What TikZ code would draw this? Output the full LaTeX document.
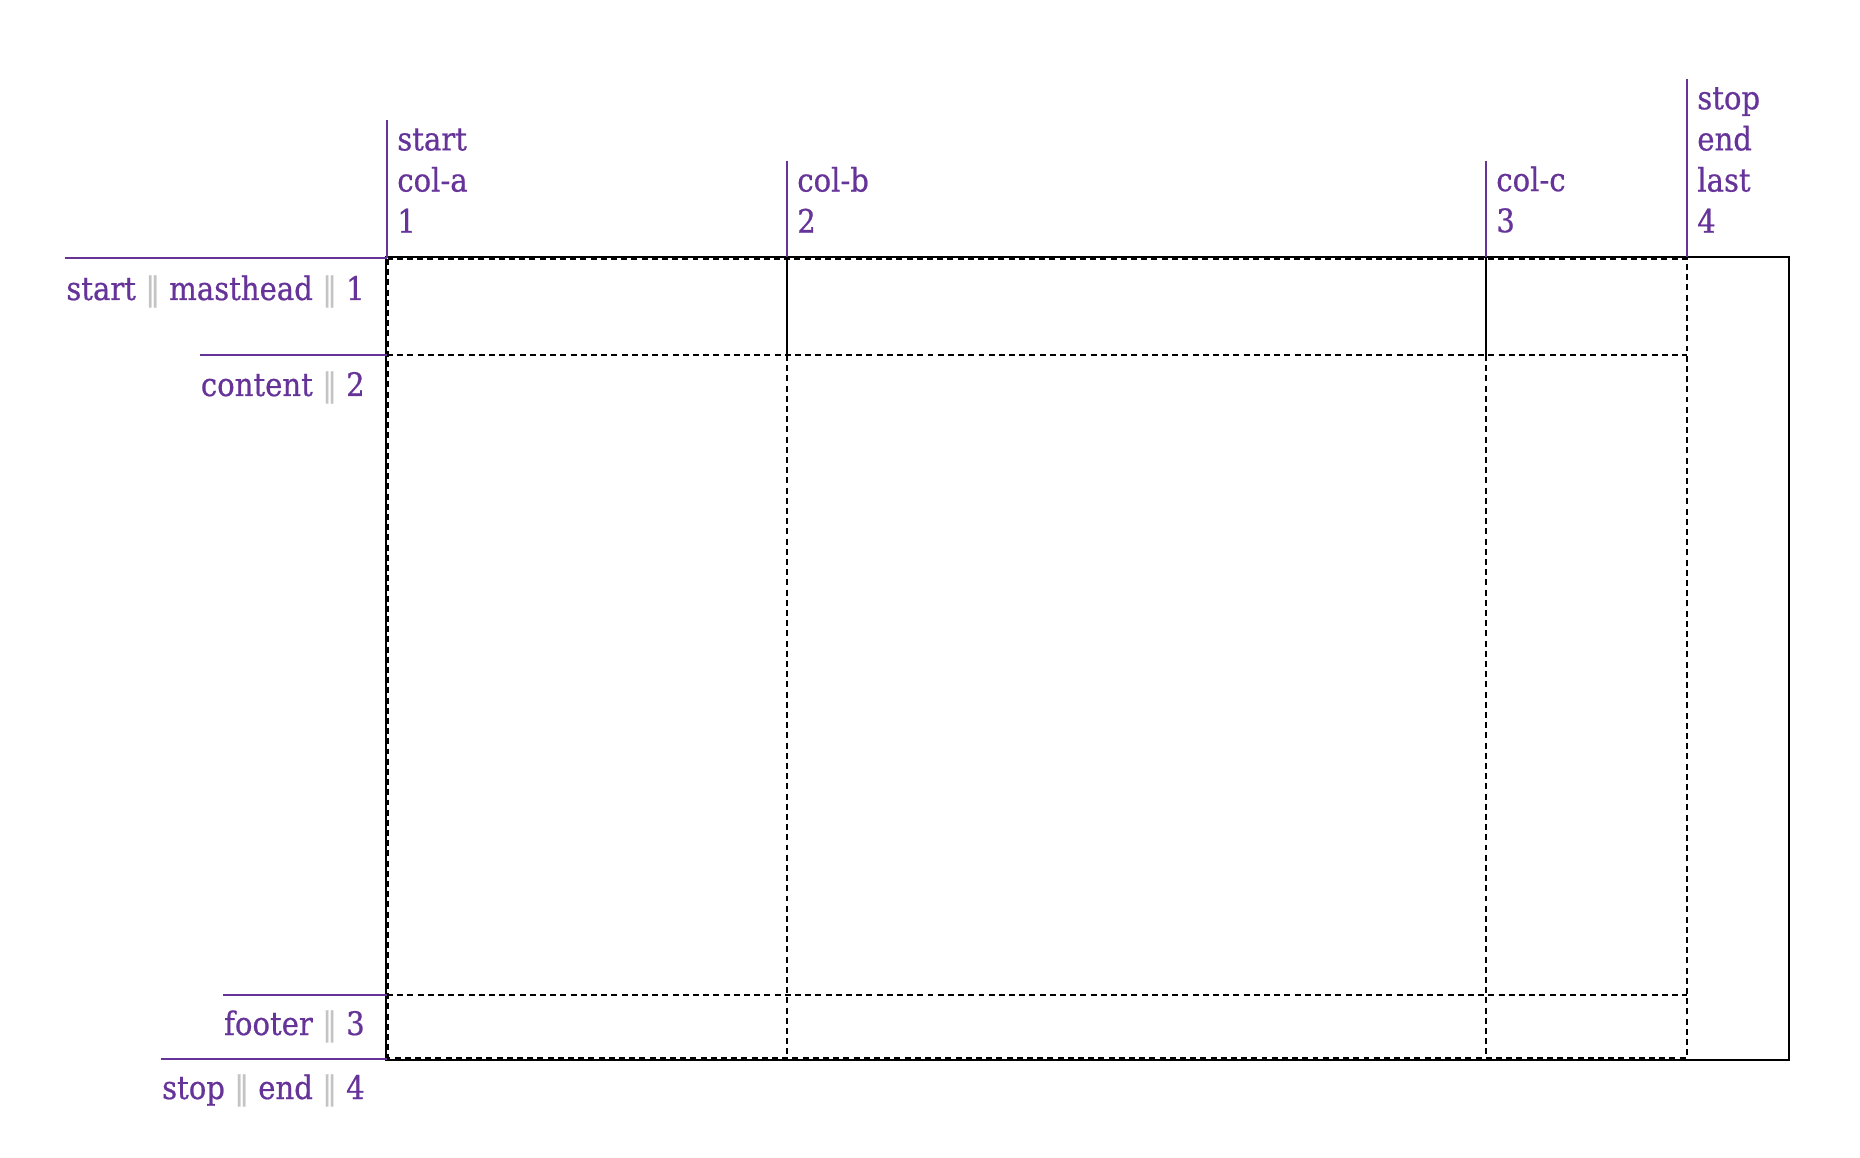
\documentclass[tikz,border=0pt]{standalone}
\usepackage{fontspec}
\setmainfont{DejaVu Serif}[FakeStretch=0.9,FakeBold=0.6]
\usepackage{tikz}
\usetikzlibrary{calc,positioning}
\definecolor{linepurple}{HTML}{663399}
\definecolor{sepgray}{HTML}{C4C4C4}
\newcommand{\gsep}{\textcolor{sepgray}{|\kern-0.15em|}}

\begin{document}
\begin{tikzpicture}[x=0.01cm,y=-0.01cm,line width=0.75pt,
	track/.style={dash pattern=on 1.7pt off 1.2pt},
	nameline/.style={linepurple,line width=0.75pt},
	collabel/.style={anchor=south west,inner sep=0pt,align=left,text=linepurple,font=\fontsize{9.2}{11.7}\selectfont},
	rowlabel/.style={anchor=base east,inner sep=0pt,text=linepurple,font=\fontsize{9.2}{11.7}\selectfont}]

% page
\useasboundingbox (0,0) rectangle (1860,1158);

% grid lines
\coordinate (g_1) at (387,258);
\coordinate (g_2) at (387,355);
\coordinate (g_3) at (387,995);
\coordinate (g_4) at (387,1059);

% container
\draw (386,257) rectangle (1789,1060);
% masthead walls
\draw (787,257) -- (787,355);
\draw (1486,257) -- (1486,355);

% tracks
\draw[track] (388,259) rectangle (1687,1058);
\draw[track] (787,355) -- (787,1058);
\draw[track] (1486,355) -- (1486,1058);
\draw[track] (g_2) -- (1687,355);
\draw[track] (g_3) -- (1687,995);

% column names
\draw[nameline] (g_1) -- (387,120);
\draw[nameline] (787,257) -- (787,161);
\draw[nameline] (1486,257) -- (1486,161);
\draw[nameline] (1687,257) -- (1687,79);

\node[collabel] (c_1) at (396,234) {start\\col-a\\1}; %label
\node[collabel] (c_2) at (796,234) {col-b\\2}; %label
\node[collabel] (c_3) at (1495,234) {col-c\\3}; %label
\node[collabel] (c_4) at (1696,234) {stop\\end\\last\\4}; %label

% row names
\node[rowlabel] (r_1) at (366,300) {start \gsep{} masthead \gsep{} 1}; %label
\node[rowlabel] (r_2) at (366,396) {content \gsep{} 2}; %label
\node[rowlabel] (r_3) at (366,1035) {footer \gsep{} 3}; %label
\node[rowlabel] (r_4) at (366,1099) {stop \gsep{} end \gsep{} 4}; %label

\draw[nameline] (r_1.west |- g_1) -- (g_1);
\draw[nameline] (r_2.west |- g_2) -- (g_2);
\draw[nameline] (r_3.west |- g_3) -- (g_3);
\draw[nameline] (r_4.west |- g_4) -- (g_4);
\end{tikzpicture}
\end{document}
